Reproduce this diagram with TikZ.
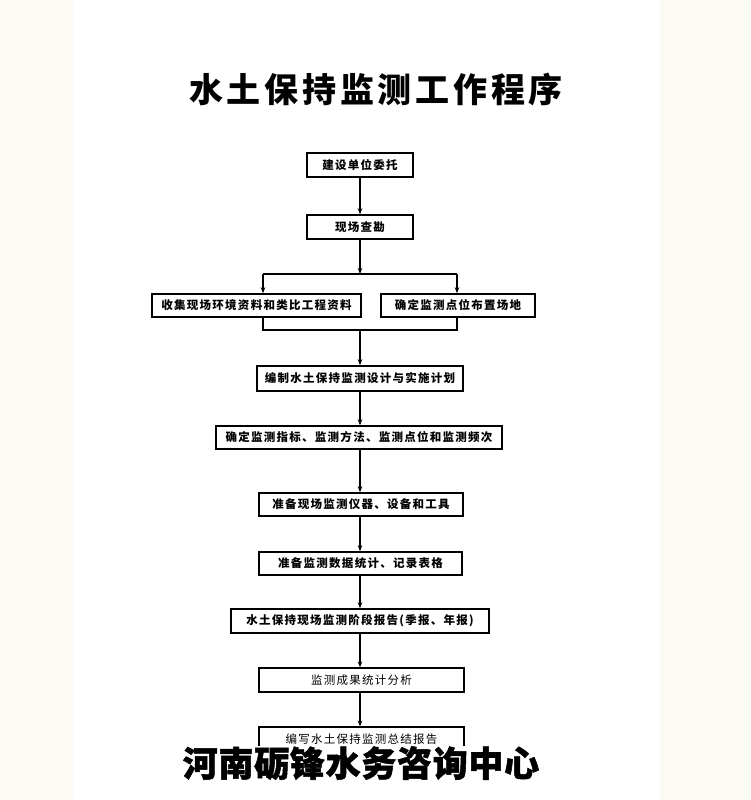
\documentclass[tikz,border=0pt]{standalone}
\usepackage{fontspec}
\newfontfamily\cjk[LetterSpace=11]{Noto Sans CJK SC}
\newfontfamily\cjktitle[LetterSpace=11]{Noto Sans CJK SC}
\newfontfamily\cjkmark[LetterSpace=2,FakeBold=1.5]{Noto Sans CJK SC}
\usetikzlibrary{arrows.meta}
\definecolor{pagebg}{HTML}{FBFAF4}
\begin{document}
\begin{tikzpicture}[x=1pt,y=-1pt,
  box/.style={draw=black,line width=1.5pt,fill=white,inner sep=0pt,
    font=\cjk\bfseries\fontsize{11.5}{13}\selectfont},
  lightbox/.style={box,line width=1.2pt,font=\cjk\fontsize{11.5}{13}\selectfont},
  link/.style={line width=1.5pt,-{Stealth[length=6pt,width=4.5pt]}},
  wire/.style={line width=1.5pt}]
\fill[pagebg] (0,0) rectangle (750,800);
\fill[white] (74,0) rectangle (660,800);
\useasboundingbox (0,0) rectangle (750,800);

\node[font=\cjktitle\bfseries\fontsize{34}{36}\selectfont] (title) at (376,89) {水土保持监测工作程序};

\node[box,minimum width=106pt,minimum height=24pt] (b1) at (360,165) {建设单位委托};
\node[box,minimum width=106pt,minimum height=24pt] (b2) at (360,227) {现场查勘};
\node[box,minimum width=209pt,minimum height=23pt] (b3) at (256.5,305.5) {收集现场环境资料和类比工程资料};
\node[box,minimum width=154pt,minimum height=23pt] (b4) at (458,305.5) {确定监测点位布置场地};
\node[box,minimum width=206pt,minimum height=25pt] (b5) at (360,378.5) {编制水土保持监测设计与实施计划};
\node[box,minimum width=286pt,minimum height=23pt] (b6) at (359,437.5) {确定监测指标、监测方法、监测点位和监测频次};
\node[box,minimum width=204pt,minimum height=23pt] (b7) at (361,504.5) {准备现场监测仪器、设备和工具};
\node[box,minimum width=203pt,minimum height=23pt] (b8) at (360.5,563.5) {准备监测数据统计、记录表格};
\node[box,minimum width=258pt,minimum height=24pt] (b9) at (360,621) {水土保持现场监测阶段报告(季报、年报)};
\node[lightbox,minimum width=205pt,minimum height=24pt] (b10) at (361.5,680) {监测成果统计分析};
\node[lightbox,minimum width=205pt,minimum height=24pt] (b11) at (361.5,739) {编写水土保持监测总结报告};

\coordinate (sp) at (360,274);
\coordinate (sl) at (263,274);
\coordinate (sr) at (457,274);
\coordinate (ml) at (263,330);
\coordinate (mr) at (457,330);
\coordinate (mm) at (360,330);

\draw[link] (b1.south) -- (b2.north);
\draw[link] (b2.south) -- (sp);
\draw[wire] (sl) -- (sr);
\draw[link] (sl) -- (sl |- b3.north);
\draw[link] (sr) -- (sr |- b4.north);
\draw[wire] (b3.south -| ml) -- (ml) -- (mr) -- (b4.south -| mr);
\draw[link] (mm) -- (mm |- b5.north);
\draw[link] (b5.south) -- (b5.south |- b6.north);
\draw[link] (b5.south |- b6.south) -- (b5.south |- b7.north);
\draw[link] (b5.south |- b7.south) -- (b5.south |- b8.north);
\draw[link] (b5.south |- b8.south) -- (b5.south |- b9.north);
\draw[link] (b5.south |- b9.south) -- (b5.south |- b10.north);
\draw[link] (b5.south |- b10.south) -- (b5.south |- b11.north);

\node[fill=white,inner sep=0.5pt,font=\cjkmark\bfseries\fontsize{35}{37}\selectfont] (mark) at (361,763) {河南砺锋水务咨询中心};
\end{tikzpicture}
\end{document}
